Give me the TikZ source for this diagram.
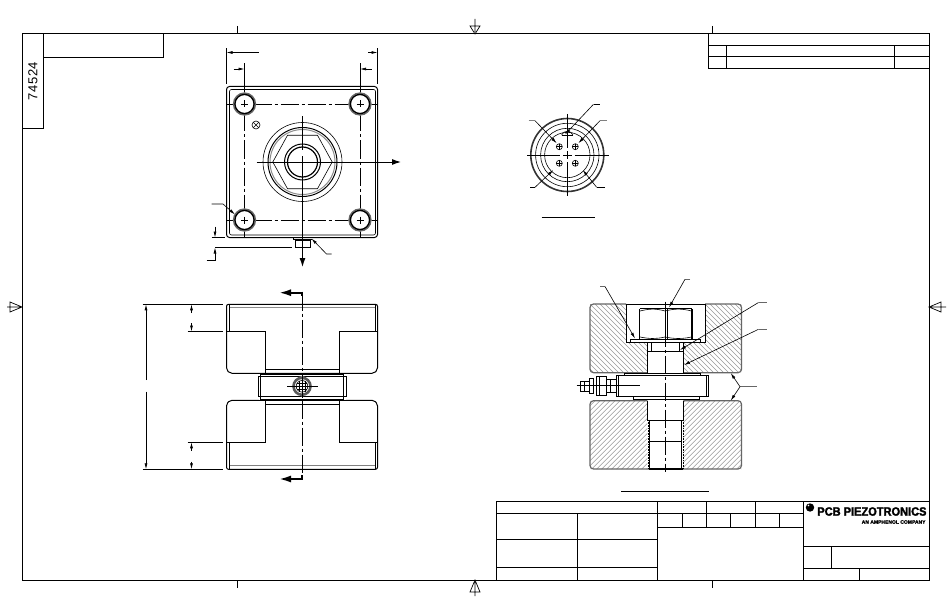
\documentclass[tikz,border=0pt]{standalone}
\usepackage{fontspec}
\setmainfont{Liberation Sans}
\newfontfamily\drawnofont[LetterSpace=4]{Liberation Sans}
\newfontfamily\logofont[FakeBold=2,FakeStretch=.92]{Liberation Sans}
\newfontfamily\companyfont[FakeBold=1.5]{Liberation Sans}
\usepackage{tikz}
\usetikzlibrary{%
  arrows.meta
 ,calc
}
\tikzstyle{sheet}=[x=1pt,y=-1pt,line width=1pt,line join=miter]
\tikzstyle{fine}=[line width=.6pt]
\tikzstyle{shade}=[line width=1pt,black!45]
\tikzstyle{blockedge}=[line width=1.2pt,black!60,rounded corners=3.5pt]
\tikzstyle{cen}=[line width=.9pt,dash pattern=on 18pt off 3pt on 3pt off 3pt]
\tikzstyle{dim}=[line width=.7pt,-{Latex[length=6pt,width=3pt]}]
\tikzstyle{leader}=[line width=.6pt,-{Latex[length=6pt,width=3pt]}]
\tikzstyle{mainarr}=[line width=1pt,-{Latex[length=9pt,width=6pt]}]
\tikzstyle{cutarr}=[line width=2pt,-{Latex[length=12pt,width=7pt]}]
\tikzstyle{hatch}=[line width=.5pt,black!40]
\tikzstyle{regmark}=[line width=.7pt]

\begin{document}
\begin{tikzpicture}[sheet]
  \useasboundingbox (0,0) rectangle (950,615);
  \fill[white] (0,0) rectangle (950,615);
% sheet border
  \draw (22,34) rectangle (929,580);
  \draw (22,34) rectangle (43.5,129);
  \draw (43.5,34) rectangle (163.5,57.5);
  \node[rotate=90,font=\drawnofont\fontsize{13}{13}\selectfont,inner sep=0pt] (drawno) at (33,81) {74524};
  \foreach \mx in {237,712} {
    \draw[regmark] (\mx,26) -- (\mx,34);
    \draw[regmark] (\mx,580) -- (\mx,588);
  }
  \draw[regmark] (475,34) -- (470,26) -- (480,26) -- cycle (475,19) -- (475,32);
  \draw[regmark] (475,580) -- (470,592) -- (480,592) -- cycle (475,582) -- (475,596);
  \draw[regmark] (22,307) -- (10,302) -- (10,312) -- cycle (7,307) -- (20,307);
  \draw[regmark] (929,307) -- (941,302) -- (941,312) -- cycle (931,307) -- (946,307);
% revision table
  \draw (708.5,34) -- (708.5,68.5) -- (929,68.5);
  \draw (708.5,45.5) -- (929,45.5) (708.5,57) -- (929,57);
  \draw (726.5,45.5) -- (726.5,68.5) (894,45.5) -- (894,68.5);
% title block
  \draw (496,580) -- (496,501) -- (929,501);
  \draw (496,513.5) -- (803,513.5);
  \draw (496,539.5) -- (657.5,539.5) (496,567.5) -- (657.5,567.5);
  \draw (577.5,513.5) -- (577.5,580) (657.5,501) -- (657.5,580);
  \draw (657.5,527.5) -- (803,527.5);
  \foreach \tx in {706.5,755.5} \draw (\tx,501) -- (\tx,527.5);
  \foreach \tx in {682.5,730.5,779.5} \draw (\tx,513.5) -- (\tx,527.5);
  \draw (803.5,501) -- (803.5,580);
  \draw (803.5,546.5) -- (929,546.5) (803.5,568.5) -- (929,568.5);
  \draw (831.5,546.5) -- (831.5,568.5) (859.5,568.5) -- (859.5,580);
  \fill (810,507.5) circle (4.2);
  \fill[white] (808.5,505.5) circle (.9);
  \node[anchor=east,inner sep=0pt,font=\logofont\bfseries\fontsize{12}{13}\selectfont] (logo) at (927,511.5) {PCB PIEZOTRONICS};
  \node[anchor=east,inner sep=0pt,font=\companyfont\bfseries\fontsize{5}{6}\selectfont] (company) at (926,522) {AN AMPHENOL COMPANY};
%
% top view
  \draw[rounded corners=3pt] (226.5,86.5) rectangle (377.5,237.5);
  \draw[fine,rounded corners=2pt] (229.5,89.5) rectangle (375.5,235);
  \draw[cen] (226.5,104) -- (377.5,104);
  \draw[cen] (226.5,220) -- (377.5,220);
  \draw[cen] (244.5,86.5) -- (244.5,237.5);
  \draw[cen] (360,86.5) -- (360,237.5);
  \foreach \bx/\by in {244.5/104,360/104,244.5/220,360/220} {
    \fill[white] (\bx,\by) circle (11.5);
    \draw[line width=1.3pt,black!60] (\bx,\by) circle (11);
    \draw[line width=1.4pt] (\bx,\by) circle (9.6);
    \draw[fine] (\bx-3.5,\by) -- (\bx+3.5,\by) (\bx,\by-3.5) -- (\bx,\by+3.5);
  }
  \draw[fine] (256,125) circle (4);
  \draw[fine] (253.2,122.2) -- (258.8,127.8) (253.2,127.8) -- (258.8,122.2);
  \draw[fine] (302.5,162) circle (39.5);
  \draw (302.5,162) circle (34.5);
  \draw[shade] (302.5,162) circle (32.5);
  \draw[fine] (272.8,162) -- (287.5,135.3) -- (317.5,135.3) -- (332.2,162) -- (317.5,188.7) -- (287.5,188.7) -- cycle;
  \draw (302.5,162) circle (18);
  \draw[line width=1.2pt] (302.5,162) circle (15);
  \draw (302.5,116.5) -- (302.5,150) (302.5,156) -- (302.5,162);
  \draw[mainarr] (256.5,162) -- (401,162);
  \draw[mainarr] (302.5,162) -- (302.5,267);
  \draw[fine] (293,237.5) -- (293,239.5) -- (312,239.5);
  \draw (295,240) rectangle (310,247.5);
% top view dimensions
  \draw[fine] (226.5,84) -- (226.5,48) (377.5,84) -- (377.5,48);
  \draw[fine] (244.5,92) -- (244.5,63) (360,92) -- (360,63);
  \draw[dim] (258.5,52.5) -- (226.5,52.5);
  \draw[dim] (368,52.5) -- (377.5,52.5);
  \draw[dim] (233.5,69) -- (244.5,69);
  \draw[dim] (371.5,69) -- (360,69);
  \draw[leader] (211.5,204) -- (223,204) -- (235,214.5);
  \draw[leader] (331.5,254) -- (326.5,254) -- (311.5,238.5);
  \draw[fine] (211.5,237.5) -- (225,237.5);
  \draw[fine] (215,247.5) -- (291.5,247.5);
  \draw[dim] (215,226.5) -- (215,237.5);
  \draw[dim] (206.5,260.5) -- (215,260.5) -- (215,247.5);
%
% front view
  \foreach \ya/\yb/\yc/\yd/\ye in {304.3/331.5/373.3/369.3/369.8,469.3/442.3/400.3/404.3/403.8} {
    \draw[rounded corners=2pt] (230,\yc) -- (226.5,\ye) -- (226.5,\ya) -- (377.5,\ya) -- (377.5,\ye) -- (374,\yc) -- cycle;
    \draw (226.5,\yb) -- (265,\yb) -- (265,\yc);
    \draw (377.5,\yb) -- (339.5,\yb) -- (339.5,\yc);
    \draw[fine] (229.5,\yb) -- (229.5,\ya) (375,\yb) -- (375,\ya);
    \draw[fine] (265,\yd) -- (339.5,\yd);
  }
  \draw[shade] (229.5,307.3) -- (375,307.3);
  \draw[line width=1.6pt,black!50] (229.5,465.5) -- (375,465.5);
% front view sensor
  \fill[white] (258.5,374) rectangle (346,399.5);
  \draw (260,374.5) rectangle (343.5,399.5);
  \draw[fine] (258.5,376) rectangle (346,396.5);
  \draw[line width=1.4pt] (265,373.5) -- (339.5,373.5);
  \draw[cen] (302,292.5) -- (302,479);
  \fill[white] (302,386.3) circle (10);
  \draw[line width=2.6pt,black!65] (302,386.3) circle (8.5);
  \draw[fine] (302,386.3) circle (5.8);
  \draw[fine] (287,386.3) -- (317.5,386.3) (302,376) -- (302,397);
  \foreach \gd in {-3,3} \draw[fine] (302+\gd,381) -- (302+\gd,391.5) (296.8,386.3+\gd) -- (307.2,386.3+\gd);
  \draw[cutarr] (302,292.7) -- (279,292.7);
  \draw[cutarr] (302,479) -- (279,479);
  \draw[line width=2pt] (302,291.7) -- (302,296) (302,475) -- (302,480);
% front view dimensions
  \draw[fine] (142.5,304.3) -- (223,304.3) (142.5,469.3) -- (223,469.3);
  \draw[fine] (187.5,331.5) -- (223,331.5) (187.5,442.3) -- (223,442.3);
  \draw[dim] (146,380) -- (146,304.3);
  \draw[dim] (146,391.5) -- (146,469.3);
  \draw[dim] (191.5,313) -- (191.5,304.3);
  \draw[dim] (191.5,323) -- (191.5,331.5);
  \draw[dim] (191.5,450.5) -- (191.5,442.3);
  \draw[dim] (191.5,461.5) -- (191.5,469.3);
%
% section view
  \begin{scope}
    \clip (590,304) -- (626,304) -- (626,342.7) -- (647.3,342.7) -- (647.3,372.7) -- (590,372.7) -- cycle
          (741.5,304) -- (705,304) -- (705,342.7) -- (683.3,342.7) -- (683.3,372.7) -- (741.5,372.7) -- cycle;
    \foreach \hx in {500,505,...,760} \draw[hatch] (\hx,304) -- (\hx+69,373);
  \end{scope}
  \begin{scope}
    \clip (590,400.7) -- (647.3,400.7) -- (647.3,469) -- (590,469) -- cycle
          (741.5,400.7) -- (683.3,400.7) -- (683.3,469) -- (741.5,469) -- cycle;
    \foreach \hx in {590,595,...,820} \draw[hatch] (\hx,400.7) -- (\hx-69,469.7);
  \end{scope}
  \draw[blockedge] (626,304) -- (590,304) -- (590,372.7) -- (647.3,372.7);
  \draw[blockedge] (705,304) -- (741.5,304) -- (741.5,372.7) -- (683.3,372.7);
  \draw (626,304) -- (705,304) (626,304) -- (626,342.7) (705,304) -- (705,342.7);
  \draw (626,342.7) -- (705,342.7);
  \draw[blockedge] (647.3,400.7) -- (590,400.7) -- (590,469) -- (741.5,469) -- (741.5,400.7) -- (683.3,400.7);
% bolt
  \fill[white] (630.5,339.3) rectangle (700.5,342);
  \draw (630.5,339.3) rectangle (700.5,342);
  \draw[line width=1.4pt] (639.5,339) -- (639.5,308.5) (692,339) -- (692,308.5);
  \draw (639.5,308.5) -- (692,308.5);
  \draw[fine] (640,311) .. controls (650,308.5) and (656,308.5) .. (665,311) .. controls (675,308.5) and (682,308.5) .. (691.5,311);
  \draw[fine] (640,337) .. controls (650,339) and (656,339) .. (665,337) .. controls (675,339) and (682,339) .. (691.5,337);
  \draw (665,308.5) -- (665,339) (667.5,308.5) -- (667.5,339);
  \draw (647.3,342) -- (647.3,372.7) (683.3,342) -- (683.3,372.7);
  \draw (651.7,342) -- (651.7,351.7) (679.5,342) -- (679.5,351.7);
  \draw (647.3,351.7) -- (683.3,351.7);
% sensor in section
  \draw (616,375) rectangle (708.5,396.7);
  \draw[fine] (618.5,375) -- (618.5,396.7) (706.5,375) -- (706.5,396.7);
  \draw (624,375) -- (624,373.3) -- (700.5,373.3) -- (700.5,375);
  \draw (633.5,396.7) -- (633.5,399.3) -- (699.5,399.3) -- (699.5,396.7);
  \draw (647.3,400.7) -- (647.3,420) (683.3,400.7) -- (683.3,420);
  \draw (647.3,420) -- (683.3,420);
  \draw (649.5,420) -- (649.5,469) (681.5,420) -- (681.5,469);
  \draw[line width=1.4pt] (649.5,441.7) -- (681.5,441.7);
  \draw[line width=1.4pt] (648.5,469) -- (682.5,469);
  \draw[fine,densely dotted] (648,420) -- (648,469) (683,420) -- (683,469);
  \draw[cen] (665.7,301.5) -- (665.7,472);
% sensor connector
  \draw (606,379.5) rectangle (616,392);
  \draw (596.5,376) rectangle (606,395.5);
  \draw[fine] (599,376) -- (599,395.5);
  \draw (589,378) rectangle (593,393.5);
  \draw (580,381) rectangle (589,391);
  \draw[fine] (584,381) -- (584,391) (610,379.5) -- (610,392);
  \draw[fine] (576.5,385.7) -- (640,385.7);
% section leaders
  \draw[fine,black!60] (600,286.5) -- (605,286.5);
  \draw[leader] (605,286.5) -- (635,338.5);
  \draw[fine,black!60] (690,279.3) -- (685,279.3);
  \draw[leader] (685,279.3) -- (669,307.5);
  \draw[fine,black!60] (766.5,302.5) -- (758.5,302.5);
  \draw[leader] (758.5,302.5) -- (680,350);
  \draw[fine,black!60] (766.5,329.3) -- (758.5,329.3);
  \draw[leader] (758.5,329.3) -- (684,365);
  \draw[fine,black!60] (756.5,386.7) -- (740,386.7);
  \draw[leader] (740,386.7) -- (730.7,373);
  \draw[leader] (740,386.7) -- (730.7,400.7);
  \draw (621,491) -- (708.5,491);
%
% connector end view
  \draw[line width=1.6pt,black!80] (567.3,155) circle (36.5);
  \draw[fine] (567.3,155) circle (31.7);
  \draw[fine] (567.3,155) circle (26.7);
  \draw[fine] (567.3,155) circle (22.7);
  \foreach \px/\py in {-8/-8.3,8/-8.3,-8/8.3,8/8.3} {
    \draw[fine] (567.3+\px,155+\py) circle (3);
    \draw[fine] (567.3+\px-3,155+\py) -- (567.3+\px+3,155+\py) (567.3+\px,155+\py-3) -- (567.3+\px,155+\py+3);
  }
  \draw (527.3,155) -- (560,155) (563,155) -- (571.5,155) (574.5,155) -- (609,155);
  \draw (567.3,114) -- (567.3,148) (567.3,151) -- (567.3,159) (567.3,162) -- (567.3,196);
  \draw[fine] (561.5,135) .. controls (564,130) and (570.5,130) .. (573,135);
  \draw[fine] (561.5,135) -- (573,135);
  \draw[fine] (599.5,104.3) -- (593.5,104.3);
  \draw[leader] (593.5,104.3) -- (565,134.5);
  \draw[fine,black!50] (528.5,120.7) -- (535,120.7);
  \draw[leader] (535,120.7) -- (556.7,143.3);
  \draw[fine,black!50] (606.5,120.7) -- (600,120.7);
  \draw[leader] (600,120.7) -- (578.3,143.3);
  \draw[fine] (530,187.3) -- (535,187.3);
  \draw[leader] (535,187.3) -- (553.3,170);
  \draw[fine] (605,187.3) -- (596.7,187.3);
  \draw[leader] (596.7,187.3) -- (582.7,170);
  \draw (541.5,217.3) -- (595,217.3);
\end{tikzpicture}
\end{document}
